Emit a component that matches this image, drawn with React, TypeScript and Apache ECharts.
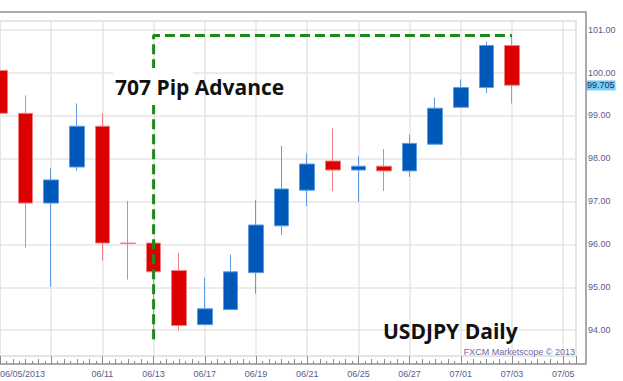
import React, { useEffect, useRef } from 'react';
import * as echarts from 'echarts';

// Trading days (category labels)
const dates = ['06/05', '06/06', '06/07', '06/10', '06/11', '06/12', '06/13', '06/14', '06/17', '06/18', '06/19', '06/20', '06/21', '06/24', '06/25', '06/26', '06/27', '06/28', '07/01', '07/02', '07/03', '07/04', '07/05'];
const firstLabel = '06/05/2013';

// OHLC values (first 21 trading days)
const openV = [100.05, 99.05, 96.96, 97.80, 98.75, 96.03, 96.03, 95.39, 94.13, 94.48, 95.34, 96.43, 97.26, 97.94, 97.73, 97.82, 97.71, 98.33, 99.19, 99.65, 100.63];
const closeV = [99.05, 96.96, 97.50, 98.75, 96.03, 96.02, 95.36, 94.11, 94.50, 95.36, 96.45, 97.29, 97.87, 97.73, 97.82, 97.71, 98.35, 99.17, 99.65, 100.63, 99.705];
const lowV = [98.90, 95.92, 95.01, 97.71, 95.62, 95.18, 93.79, 93.99, 94.13, 94.48, 94.85, 96.22, 96.89, 97.24, 96.99, 97.24, 97.57, 98.33, 99.19, 99.52, 99.28];
const highV = [100.30, 99.47, 97.77, 99.28, 99.05, 97.01, 96.05, 95.80, 95.22, 95.76, 97.03, 98.29, 98.12, 98.70, 98.05, 98.22, 98.56, 99.42, 99.84, 100.72, 100.86];

const advanceStart = 6; // 06/13 low
const advanceEnd = 20; // 07/03 high
const lastPriceLabel = '99.705';

const AX = '#5b5b8e';
const TICK = '#8c8c8c';
const FONT = 'Liberation Sans, Arial, sans-serif';
const SHIFT = 3; // chart canvas starts 3px left of the page

export default function App() {
  const ref = useRef<HTMLDivElement>(null);
  useEffect(() => {
    const chart = echarts.init(ref.current!, null, { renderer: 'svg' });
    const candles = openV.map((o, i) => [i, o, closeV[i], lowV[i], highV[i]]);
    const advance = [
      [advanceStart, lowV[advanceStart]],
      [advanceStart, highV[advanceEnd]],
      [advanceEnd, highV[advanceEnd]],
    ];
    const isInt = (v: number) => Math.abs(v - Math.round(v)) < 1e-6;
    chart.setOption({
      animation: false,
      backgroundColor: '#ffffff',
      grid: { left: 0, right: 47, top: 21, bottom: 25, show: true, borderColor: '#d3dae3', borderWidth: 1.5 },
      xAxis: [
        {
          type: 'value', min: 0, max: 22.5, interval: 2, position: 'bottom', offset: 8,
          axisLine: { show: false },
          axisTick: { show: true, inside: true, length: 8, lineStyle: { color: TICK } },
          axisLabel: {
            margin: 5, color: AX, fontFamily: FONT, fontSize: 9, alignMinLabel: 'left',
            formatter: (v: number) => {
              if (!isInt(v)) return '';
              const i = Math.round(v);
              if (i === 0) return firstLabel;
              if (i === 2) return '';
              return dates[i] || '';
            },
          },
          splitLine: { show: true, lineStyle: { color: '#e6e6e6', width: 1.5 } },
        },
        {
          type: 'value', min: 0, max: 22.5, interval: 0.25, position: 'bottom', offset: 8,
          axisLine: { show: false },
          axisTick: { show: true, inside: true, length: 3, lineStyle: { color: TICK } },
          axisLabel: { show: false }, splitLine: { show: false },
        },
        {
          type: 'value', min: 0, max: 22.5, interval: 0.5, position: 'bottom', offset: 8,
          axisLine: { show: false },
          axisTick: { show: true, inside: true, length: 5, lineStyle: { color: TICK } },
          axisLabel: { show: false }, splitLine: { show: false },
        },
      ],
      yAxis: [
        {
          type: 'value', position: 'right', offset: 9, min: 93.4, max: 101.2, minInterval: 1, maxInterval: 1, splitNumber: 8,
          axisLine: { show: false },
          axisTick: { show: true, inside: true, length: 9, lineStyle: { color: TICK } },
          axisLabel: {
            margin: 3, color: AX, fontFamily: FONT, fontSize: 9,
            formatter: (v: number) => (isInt(v) ? v.toFixed(2) : ''),
          },
          splitLine: { show: true, lineStyle: { color: '#e6e6e6', width: 1.5 } },
        },
        {
          type: 'value', position: 'right', offset: 9, min: 93.4, max: 101.2, interval: 0.1,
          axisLine: { show: false },
          axisTick: { show: true, inside: true, length: 4, lineStyle: { color: TICK } },
          axisLabel: { show: false }, splitLine: { show: false },
        },
      ],
      series: [
        {
          type: 'candlestick', xAxisIndex: 0, yAxisIndex: 0, barWidth: 15, data: candles,
          itemStyle: { color: '#0059b9', color0: '#dd0000', borderColor: '#5c9de2', borderColor0: '#ef8080', borderWidth: 1 },
          markLine: {
            silent: true, symbol: 'none',
            lineStyle: { color: 'rgba(0,0,0,0)', width: 0 },
            label: {
              show: true, position: 'end', distance: 10, formatter: lastPriceLabel,
              backgroundColor: '#72d0f8', color: '#2a2a66', fontFamily: FONT, fontSize: 9, padding: [1, 1, 0, 1],
            },
            data: [{ yAxis: closeV[closeV.length - 1] }],
          },
        },
        {
          type: 'line', xAxisIndex: 0, yAxisIndex: 0, data: advance, symbol: 'none', silent: true, z: 5,
          lineStyle: { color: '#1a8a1a', width: 3, type: [10, 5] },
        },
      ],
      graphic: [
        { type: 'polyline', z: 50, shape: { points: [[0, 12], [586 + SHIFT, 12], [586 + SHIFT, 364], [0, 364]] }, style: { stroke: '#8f8f8f', lineWidth: 1.5, fill: null } },
        { type: 'rect', z: 50, shape: { x: 113 + SHIFT, y: 68, width: 80, height: 37 }, style: { fill: '#ffffff' } },
        { type: 'text', z: 51, x: 115 + SHIFT, y: 87, style: { text: '707 Pip Advance', fontFamily: 'Open Sans', fontWeight: 'bold', fontSize: 21, fill: '#111111', verticalAlign: 'middle', align: 'left' } },
        { type: 'text', z: 51, x: 383 + SHIFT, y: 331, style: { text: 'USDJPY Daily', fontFamily: 'Open Sans', fontWeight: 'bold', fontSize: 21, fill: '#111111', verticalAlign: 'middle', align: 'left' } },
        { type: 'text', z: 51, x: 575 + SHIFT, y: 352, style: { text: 'FXCM Marketscope © 2013', fontFamily: FONT, fontSize: 9, fill: '#6b6b9a', verticalAlign: 'middle', align: 'right' } },
      ],
    });
    return () => chart.dispose();
  }, []);
  return <div ref={ref} style={{ position: 'absolute', left: -SHIFT, top: 0, width: 623 + SHIFT, height: 381, background: '#fff' }} />;
}
